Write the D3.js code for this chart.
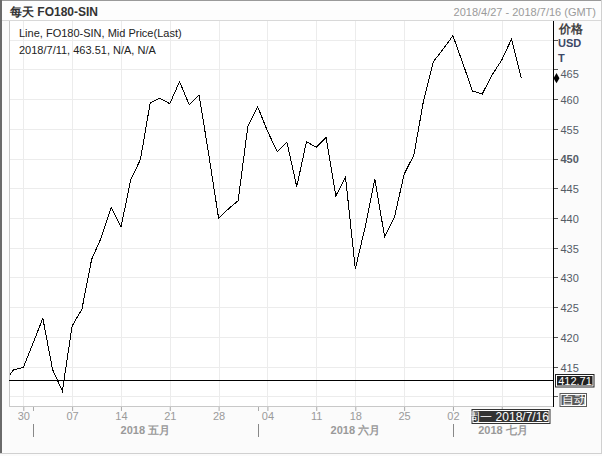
<!DOCTYPE html>
<html><head><meta charset="utf-8">
<script src="https://cdn.jsdelivr.net/npm/d3@7"></script>
<style>
body{margin:0;background:#fbfbfb}
svg{display:block}
text{font-family:"Liberation Sans",Arial,sans-serif}
</style>
</head><body>
<script>
// ---- data ----
const dates = ["2018-04-26","2018-04-27","2018-04-30","2018-05-01","2018-05-02","2018-05-03","2018-05-04",
"2018-05-07","2018-05-08","2018-05-09","2018-05-10","2018-05-11","2018-05-14","2018-05-15","2018-05-16",
"2018-05-17","2018-05-18","2018-05-21","2018-05-22","2018-05-23","2018-05-24","2018-05-25","2018-05-28",
"2018-05-29","2018-05-30","2018-05-31","2018-06-01","2018-06-04","2018-06-05","2018-06-06","2018-06-07",
"2018-06-08","2018-06-11","2018-06-12","2018-06-13","2018-06-14","2018-06-18","2018-06-19","2018-06-20",
"2018-06-21","2018-06-22","2018-06-25","2018-06-26","2018-06-27","2018-06-28","2018-06-29","2018-07-02",
"2018-07-03","2018-07-04","2018-07-05","2018-07-06","2018-07-09","2018-07-10","2018-07-11"];
const prices = [412.3,414.5,414.85,418.95,423.15,414.5,410.9,
421.85,424.66,433.07,436.76,441.8,438.45,446.4,449.87,
459.39,460.13,459.22,462.92,459.0,460.68,450.6,439.96,
441.52,442.92,455.47,458.71,454.63,451.15,452.73,445.27,
452.83,451.89,453.57,443.71,446.85,431.44,438.41,446.51,
436.87,440.06,447.35,450.6,459.84,466.28,468.41,470.65,
466.06,461.35,460.85,464.04,466.56,470.09,463.51];
const futureDays = ["2018-07-12","2018-07-13","2018-07-16"];
const xTickDates = ["2018-04-30","2018-05-07","2018-05-14","2018-05-21","2018-05-28","2018-06-04",
"2018-06-11","2018-06-18","2018-06-25","2018-07-02","2018-07-09"];
const xTickLabels = ["30","07","14","21","28","04","11","18","25","02",""];
const monthStartDates = ["2018-05-01","2018-06-01","2018-07-02"];
const monthLabels = ["2018 五月","2018 六月","2018 七月"];
const yTicks = [410,415,420,425,430,435,440,445,450,455,460,465,470];
const yLabelTicks = [415,420,425,430,435,440,445,450,455,460,465];
const refLevel = 412.71;
const lastValue = 463.51;

// ---- layout ----
const W = 602, H = 456;
const plot = {l: 9, r: 553, t: 21, b: 406};

const svg = d3.select("body").append("svg").attr("width", W).attr("height", H);

// backgrounds / frame
svg.append("rect").attr("x",0).attr("y",0).attr("width",W).attr("height",H).attr("fill","#fbfbfb");
svg.append("rect").attr("x",0).attr("y",0).attr("width",W).attr("height",21).attr("fill","#fdfdfd");
svg.append("rect").attr("x",plot.l).attr("y",plot.t).attr("width",plot.r-plot.l).attr("height",plot.b-plot.t).attr("fill","#ffffff");
svg.append("line").attr("x1",0).attr("x2",W).attr("y1",0.5).attr("y2",0.5).attr("stroke","#9a9a9a");
svg.append("line").attr("x1",0).attr("x2",W).attr("y1",20.5).attr("y2",20.5).attr("stroke","#d8d8d8");
svg.append("line").attr("x1",1).attr("x2",1).attr("y1",0).attr("y2",454).attr("stroke","#6a6a6a").attr("stroke-width",2);
svg.append("line").attr("x1",W-0.5).attr("x2",W-0.5).attr("y1",0).attr("y2",454).attr("stroke","#d0d0d0");
svg.append("line").attr("x1",0).attr("x2",W).attr("y1",453.5).attr("y2",453.5).attr("stroke","#d0d0d0");

// ---- scales ----
const allDays = dates.concat(futureDays);
const x = d3.scalePoint().domain(allDays).range([3.77, 550.6]);
const y = d3.scaleLinear().domain([415, 465]).range([366.7, 69.3]);

// grid
const g = svg.append("g").attr("shape-rendering","crispEdges");
g.selectAll("line.hg").data(yTicks).join("line")
  .attr("x1",plot.l).attr("x2",plot.r)
  .attr("y1",d=>Math.round(y(d))+0.5).attr("y2",d=>Math.round(y(d))+0.5)
  .attr("stroke","#ececec");
g.selectAll("line.vg").data(xTickDates).join("line")
  .attr("x1",d=>Math.round(x(d))+0.5).attr("x2",d=>Math.round(x(d))+0.5)
  .attr("y1",plot.t).attr("y2",plot.b)
  .attr("stroke","#ececec");

// plot borders
svg.append("line").attr("x1",plot.l+0.5).attr("x2",plot.l+0.5).attr("y1",plot.t).attr("y2",plot.b).attr("stroke","#c8c8c8");
svg.append("line").attr("x1",plot.l).attr("x2",plot.r).attr("y1",plot.b+0.5).attr("y2",plot.b+0.5).attr("stroke","#c8c8c8");

// clip
svg.append("clipPath").attr("id","clip").append("rect")
  .attr("x",plot.l+1).attr("y",plot.t).attr("width",plot.r-plot.l-1).attr("height",plot.b-plot.t);

// reference line
svg.append("line").attr("x1",plot.l).attr("x2",plot.r)
  .attr("y1",Math.round(y(refLevel))+0.5).attr("y2",Math.round(y(refLevel))+0.5)
  .attr("stroke","#000").attr("shape-rendering","crispEdges");

// price line
const series = dates.map((d,i)=>({d, v: prices[i]}));
svg.append("path").datum(series)
  .attr("clip-path","url(#clip)")
  .attr("fill","none").attr("stroke","#000").attr("stroke-width",1)
  .attr("shape-rendering","crispEdges")
  .attr("d", d3.line().x(p=>x(p.d)).y(p=>y(p.v)));

// right axis
const yAxis = d3.axisRight(y).tickValues(yTicks).tickSize(4).tickFormat(d=> yLabelTicks.includes(d) ? d : "");
const ya = svg.append("g").attr("transform",`translate(${plot.r+0.5},0)`).call(yAxis);
ya.select(".domain").attr("d",`M0,${plot.t}V${plot.b+1}`).attr("stroke","#000");
ya.selectAll(".tick line").attr("stroke","#555").attr("shape-rendering","crispEdges");
ya.selectAll(".tick text").attr("x",7).attr("dy",d=> d===465 ? "0.72em" : "0.4em")
  .attr("fill","#555c66").attr("font-size",11)
  .attr("font-family","Liberation Sans, Arial, sans-serif")
  .attr("font-weight",d=>d===450?"bold":"normal");

// bottom axis
const xAxis = d3.axisBottom(x).tickValues(xTickDates).tickSize(4)
  .tickFormat((d,i)=>xTickLabels[i]);
const xa = svg.append("g").attr("transform",`translate(0,${plot.b+1})`).call(xAxis);
xa.select(".domain").remove();
xa.selectAll(".tick line").attr("stroke","#aaa");
xa.selectAll(".tick text").attr("y",5).attr("fill","#9a9a9a").attr("font-size",11)
  .attr("font-family","Liberation Sans, Arial, sans-serif");

// month separators + labels
const mPos = monthStartDates.map(d=>x(d));
const mEdges = mPos.concat([plot.r]);
svg.selectAll("line.msep").data(mPos).join("line")
  .attr("x1",d=>Math.round(d)+0.5).attr("x2",d=>Math.round(d)+0.5)
  .attr("y1",424).attr("y2",437).attr("stroke","#888");
svg.selectAll("line.mtick").data(mPos).join("line")
  .attr("x1",d=>Math.round(d)+0.5).attr("x2",d=>Math.round(d)+0.5)
  .attr("y1",plot.b+1).attr("y2",plot.b+5).attr("stroke","#aaa");
svg.selectAll("text.mlab").data(monthLabels).join("text")
  .attr("x",(d,i)=>(mEdges[i]+mEdges[i+1])/2).attr("y",434)
  .attr("text-anchor","middle").attr("font-size",11).attr("font-weight","bold")
  .attr("fill","#999").text(d=>d);

// title + header
svg.append("text").attr("x",10).attr("y",16).attr("font-size",12).attr("font-weight","bold")
  .attr("fill","#333").text("每天 FO180-SIN");
svg.append("text").attr("x",596).attr("y",16).attr("font-size",11).attr("text-anchor","end")
  .attr("fill","#9a9a9a").text(`2018/4/27 - 2018/7/16 (GMT)`);

// legend
svg.append("text").attr("x",19).attr("y",37).attr("font-size",11).attr("fill","#222")
  .text("Line, FO180-SIN, Mid Price(Last)");
svg.append("text").attr("x",19).attr("y",54).attr("font-size",11).attr("fill","#222")
  .text(`2018/7/11, ${lastValue}, N/A, N/A`);

// right axis header
svg.append("text").attr("x",559).attr("y",33).attr("font-size",12).attr("font-weight","bold").attr("fill","#444").text("价格");
svg.append("text").attr("x",558).attr("y",47).attr("font-size",11).attr("font-weight","bold").attr("fill","#3b4866").text("USD");
svg.append("text").attr("x",558).attr("y",62).attr("font-size",11).attr("font-weight","bold").attr("fill","#3b4866").text("T");

// last value diamond
svg.append("path").attr("d",d3.symbol(d3.symbolDiamond,30))
  .attr("transform",`translate(556.5,${y(lastValue)})`).attr("fill","#000");

// boxed labels
function box(x0,y0,w,h,fill,txt,anchor,tx,fs){
  const gg = svg.append("g");
  gg.append("rect").attr("x",x0).attr("y",y0).attr("width",w).attr("height",h).attr("fill",fill);
  gg.append("rect").attr("x",x0+1.5).attr("y",y0+1.5).attr("width",w-3).attr("height",h-3)
    .attr("fill","none").attr("stroke","#fff").attr("stroke-width",1);
  gg.append("text").attr("x",tx).attr("y",y0+h/2).attr("dy","0.36em").attr("text-anchor",anchor)
    .attr("font-size",fs).attr("fill","#fff").text(txt);
}
box(555, 374, 39.5, 13.5, "#222", d3.format(".2f")(refLevel), "middle", 575, 11);
box(559.5, 393, 27.5, 14, "#5a5a5a", "自动", "middle", 573.5, 12);
box(471.5, 409, 79, 15, "#333", "周一 2018/7/16", "end", 549, 12);
</script>
</body></html>
